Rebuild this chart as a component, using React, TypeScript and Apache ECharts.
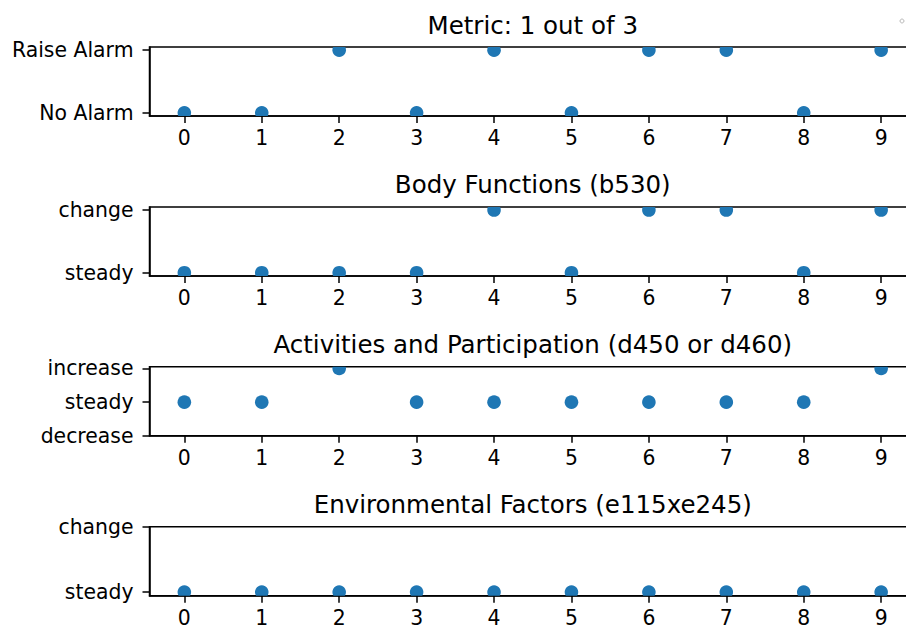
import React, { useEffect, useRef } from "react";
import * as echarts from "echarts";

const xValues = [0, 1, 2, 3, 4, 5, 6, 7, 8, 9];

const titles = [
  "Metric: 1 out of 3",
  "Body Functions (b530)",
  "Activities and Participation (d450 or d460)",
  "Environmental Factors (e115xe245)",
];

const metricLabels = ["No Alarm", "Raise Alarm"];
const bodyLabels = ["steady", "change"];
const activityLabels = ["decrease", "steady", "increase"];
const envLabels = ["steady", "change"];

const metricValues = [0, 0, 1, 0, 1, 0, 1, 1, 0, 1];
const bodyValues = [0, 0, 0, 0, 1, 0, 1, 1, 0, 1];
const activityValues = [1, 1, 2, 1, 1, 1, 1, 1, 1, 2];
const envValues = [0, 0, 0, 0, 0, 0, 0, 0, 0, 0];

// y-axis view limits of each panel [min, max]
const yLimits = [
  [-0.05, 1.05],
  [-0.05, 1.05],
  [0, 2.05],
  [-0.055, 1],
];
const xLimits = [-0.45, 9.45];

const yLabelSets = [metricLabels, bodyLabels, activityLabels, envLabels];
const valueSets = [metricValues, bodyValues, activityValues, envValues];

const FONT = "DejaVu Sans";
const GRID_LEFT = 149.5;
const GRID_RIGHT_EDGE = 916;
const GRID_TOP0 = 47;
const GRID_STEP = 159.9;
const GRID_H = 69;
const DOT_R = 6.8;

export default function App() {
  const ref = useRef<HTMLDivElement>(null);

  useEffect(() => {
    if (!ref.current) return;
    const chart = echarts.init(ref.current, undefined, { renderer: "svg" });
    const lineStyle = { color: "#000", width: 1.5 };

    const grids = titles.map((_, i) => ({
      left: GRID_LEFT,
      right: 906 - GRID_RIGHT_EDGE,
      top: GRID_TOP0 + GRID_STEP * i,
      height: GRID_H,
      show: true,
      borderColor: "#000",
      borderWidth: 1.5,
      backgroundColor: "transparent",
      containLabel: false,
      outerBoundsMode: "none",
    }));

    const xAxes = titles.map((_, i) => ({
      gridIndex: i,
      type: "value",
      min: xLimits[0],
      max: xLimits[1],
      axisLine: { show: true, onZero: false, lineStyle },
      axisTick: { show: true, length: 7, lineStyle, customValues: xValues },
      axisLabel: {
        customValues: xValues,
        margin: 12,
        fontSize: 20.4,
        color: "#000",
        fontFamily: FONT,
      },
      splitLine: { show: false },
    }));

    const yAxes = yLabelSets.map((labels, i) => {
      const ticks = labels.map((_, k) => k);
      return {
        gridIndex: i,
        type: "value",
        min: yLimits[i][0],
        max: yLimits[i][1],
        axisLine: { show: true, onZero: false, lineStyle },
        axisTick: { show: true, length: 7, lineStyle, customValues: ticks },
        axisLabel: {
          customValues: ticks,
          margin: 16,
          fontSize: 20.4,
          color: "#000",
          fontFamily: FONT,
          formatter: (v: number) => labels[Math.round(v)] ?? "",
        },
        splitLine: { show: false },
      };
    });

    const series = valueSets.map((vals, i) => ({
      type: "custom",
      xAxisIndex: i,
      yAxisIndex: i,
      clip: true,
      data: vals.map((v, k) => [xValues[k], v]),
      renderItem: (params: any, api: any) => {
        const p = api.coord([api.value(0), api.value(1)]);
        const cs = params.coordSys;
        return {
          type: "circle",
          shape: { cx: p[0], cy: p[1], r: DOT_R },
          style: { fill: "#1f77b4" },
          clipPath: {
            type: "rect",
            shape: { x: cs.x, y: cs.y, width: cs.width, height: cs.height },
          },
        };
      },
    }));

    const titleGraphics = titles.map((t, i) => ({
      type: "text",
      x: (GRID_LEFT + GRID_RIGHT_EDGE) / 2,
      y: 25 + GRID_STEP * i,
      style: {
        text: t,
        fill: "#000",
        font: `24.5px "${FONT}"`,
        fontSize: 24.5,
        fontFamily: FONT,
        align: "center",
        textAlign: "center",
        verticalAlign: "middle",
        textVerticalAlign: "middle",
      },
    }));

    chart.setOption({
      animation: false,
      backgroundColor: "#fff",
      grid: grids,
      xAxis: xAxes,
      yAxis: yAxes,
      series,
      graphic: [
        ...titleGraphics,
        {
          type: "circle",
          shape: { cx: 902, cy: 21, r: 2 },
          style: { fill: "none", stroke: "#bbb", lineWidth: 1 },
        },
      ],
    });

    return () => chart.dispose();
  }, []);

  return (
    <div
      ref={ref}
      style={{ position: "fixed", left: 0, top: 0, width: 906, height: 625 }}
    />
  );
}
